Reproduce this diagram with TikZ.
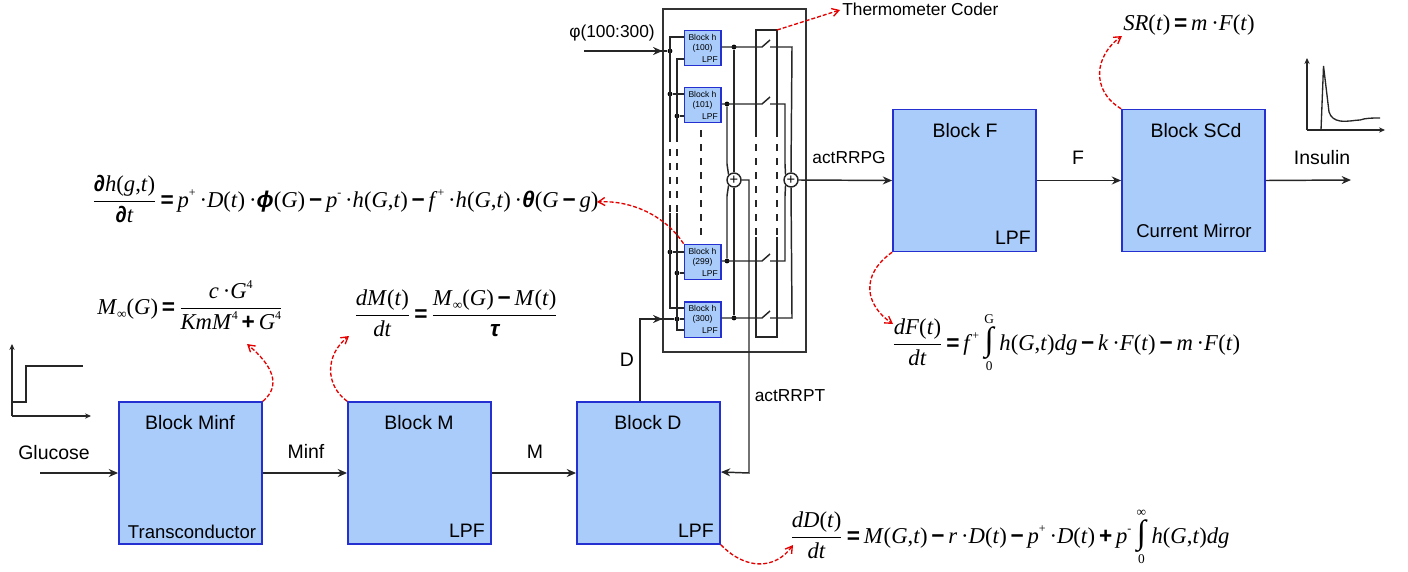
\documentclass[tikz,border=0pt]{standalone}
\usepackage{fontspec}
\setmainfont{Liberation Sans}
\newfontfamily\ser{Liberation Serif}
\newfontfamily\opf{Liberation Sans}
\usetikzlibrary{arrows.meta}
\newcommand\vv[1]{\textit{#1}}
\newcommand\Op[1]{\,{\opf\bfseries #1}\,}
\newcommand\Sy[1]{{\opf\bfseries\itshape #1}}
\newcommand\Sup[1]{\raisebox{0.45em}{\fontsize{9}{9}\selectfont #1}}
\newcommand\Sub[1]{\raisebox{-0.2em}{\fontsize{10}{10}\selectfont #1}}
\newcommand\hGt{\vv{h}(\vv{G},\vv{t})}
\newcommand\Dt{\vv{D}(\vv{t})}
\newcommand\Ft{\vv{F}(\vv{t})}
\newcommand\Cd{\,·}
\newcommand\Fr[2]{\ensuremath{\displaystyle\frac{\mbox{#1}}{\mbox{#2}}}}
\newcommand\Int[2]{\hspace{4pt}\ensuremath{\mathop{\mbox{\fontsize{25}{25}\selectfont\bfseries ∫}}\limits^{\mbox{\fontsize{10}{10}\selectfont #1}}_{\mbox{\fontsize{10}{10}\selectfont #2}}}\hspace{4pt}}
\definecolor{bfill}{HTML}{A9CCFB}
\definecolor{bdraw}{HTML}{2530D0}
\tikzset{
  x=0.75pt,y=-0.75pt,
  wire/.style={line width=1.1pt,draw=black!85},
  arr/.style={wire,-{Stealth[length=7pt,width=6pt]}},
  redarr/.style={red!90!black,line width=1pt,dash pattern=on 3pt off 1.5pt,-{Straight Barb[length=5pt,width=6pt]}},
  bigblock/.style={draw=bdraw,fill=bfill,line width=1.1pt,minimum width=107.5pt,minimum height=106.5pt,inner sep=0pt},
  hblock/.style={draw=bdraw,fill=bfill,line width=1pt,minimum width=27.5pt,minimum height=26.5pt,inner sep=0pt},
  lab/.style={font=\fontsize{14.6}{17}\selectfont,inner sep=0pt},
  sublab/.style={font=\fontsize{13.9}{16}\selectfont,inner sep=0pt},
  smlab/.style={font=\fontsize{13}{15}\selectfont,inner sep=0pt},
  tiny/.style={font=\fontsize{6.4}{7}\selectfont,inner sep=0pt},
  eq/.style={font=\ser\fontsize{17}{20}\selectfont,inner sep=0pt,anchor=base west},
  dotn/.style={circle,fill=black,inner sep=0pt,minimum size=3.6pt},
  sumn/.style={circle,draw=black!85,line width=1.1pt,fill=white,minimum size=10.5pt,inner sep=0pt,font=\fontsize{11}{11}\selectfont},
  dsh/.style={wire,dash pattern=on 5pt off 5.5pt},
}
\begin{document}
\begin{tikzpicture}
\useasboundingbox (0,0) rectangle (1408,571);
% outer box
\node[draw=black!80,line width=1.1pt,minimum width=107pt,minimum height=257pt,inner sep=0pt] (outer) at (734.5,180.5) {};
% big blocks
\node[bigblock] (minf) at (190.5,473) {};
\node[bigblock] (bm) at (419.5,473) {};
\node[bigblock] (bd) at (648.5,473) {};
\node[bigblock] (bf) at (964.5,180.5) {};
\node[bigblock] (bs) at (1193.5,180.5) {};
\node[lab] (t1) at (190,423) {Block Minf};
\node[sublab] (t2) at (192,532) {Transconductor};
\node[lab] (t3) at (419,423) {Block M};
\node[lab] (t4) at (467,531) {LPF};
\node[lab] (t5) at (648,423) {Block D};
\node[lab] (t6) at (696,531) {LPF};
\node[lab] (t7) at (965,131) {Block F};
\node[lab] (t8) at (1013,238) {LPF};
\node[lab] (t9) at (1196,131) {Block SCd};
\node[sublab] (t10) at (1194,231) {Current Mirror};
% h blocks
\node[hblock] (h100) at (702.5,48) {};
\node[hblock] (h101) at (702.5,105) {};
\node[hblock] (h299) at (702.5,262) {};
\node[hblock] (h300) at (702.5,319.5) {};
\foreach \n/\y/\t in {h100/48/100,h101/105/101,h299/262/299,h300/319.5/300}{
  \node[tiny] (\n a) at (702.5,\y-11) {Block h};
  \node[tiny] (\n b) at (702.5,\y) {(\t)};
  \node[tiny,anchor=east] (\n c) at (718,\y+11.5) {LPF};
}
% sums
\node[sumn] (s1) at (734,180) {+};
\node[sumn] (s2) at (791,180) {+};
% left buses
\node[dotn] (j1) at (670,51) {};
\node[dotn] (j2) at (670,94) {};
\node[dotn] (j3) at (677,116) {};
\node[dotn] (j4) at (670,252) {};
\node[dotn] (j5) at (677,273) {};
\node[dotn] (j6) at (677,319) {};
\coordinate (b1t) at (670,37);
\coordinate (b1s) at (670,135);
\coordinate (b1e) at (670,213);
\coordinate (b1b) at (670,308);
\coordinate (b2t) at (677,59);
\coordinate (b2s) at (677,135);
\coordinate (b2e) at (677,213);
\coordinate (b2b) at (677,330);
\draw[wire] (h100.west |- b1t) -- (b1t) -- (b1s);
\draw[dsh] (b1s) -- (b1e);
\draw[wire] (b1e) -- (b1b) -- (h300.west |- b1b);
\draw[wire] (h100.west |- b2t) -- (b2t) -- (b2s);
\draw[dsh] (b2s) -- (b2e);
\draw[wire] (b2e) -- (b2b) -- (h300.west |- b2b);
\draw[wire] (j2) -- (h101.west |- j2);
\draw[wire] (j3) -- (h101.west |- j3);
\draw[wire] (j4) -- (h299.west |- j4);
\draw[wire] (j5) -- (h299.west |- j5);
% middle dashed
\coordinate (mda) at (701,130);
\coordinate (mdb) at (701,238);
\draw[dsh] (mda) -- (mdb);
% thermometer box
\coordinate (ttl) at (756,30);
\coordinate (ttr) at (777,30);
\coordinate (tbl) at (756,337);
\coordinate (tbr) at (777,337);
\coordinate (tl1) at (756,130);
\coordinate (tl2) at (756,237);
\coordinate (tr1) at (777,130);
\coordinate (tr2) at (777,237);
\draw[wire] (tl1) -- (ttl) -- (ttr) -- (tr1);
\draw[wire] (tl2) -- (tbl) -- (tbr) -- (tr2);
\draw[dsh] (tl1) -- (tl2);
\draw[dsh] (tr1) -- (tr2);
% outputs with switches
\node[dotn] (o100) at (734,47) {};
\node[dotn] (o101) at (727,104) {};
\node[dotn] (o299) at (727,261) {};
\node[dotn] (o300) at (734,318) {};
\foreach \n/\y in {100/47,101/104,299/261,300/318}{
  \coordinate (sa\n) at (762,\y);
  \coordinate (sb\n) at (770,\y);
  \coordinate (sc\n) at (770,\y-7);
  \draw[wire] (h\n.east |- sa\n) -- (sa\n) -- (sc\n);
}
\coordinate (c100) at (792,47);
\coordinate (c101) at (785,104);
\coordinate (c299) at (785,261);
\coordinate (c300) at (792,318);
\coordinate (d101) at (785,164);
\coordinate (d299) at (785,196);
\coordinate (e101) at (727,164);
\coordinate (e299) at (727,196);
\draw[wire] (sb100) -- (c100) -- (s2.north);
\draw[wire] (sb300) -- (c300) -- (s2.south);
\draw[wire] (sb101) -- (c101) -- (d101) -- (s2.north west);
\draw[wire] (sb299) -- (c299) -- (d299) -- (s2.south west);
\draw[wire] (o100) -- (s1.north);
\draw[wire] (o300) -- (s1.south);
\draw[wire] (o101) -- (e101) -- (s1.north west);
\draw[wire] (o299) -- (e299) -- (s1.south west);
% outer connectors
\coordinate (gl) at (40,473);
\coordinate (ins) at (1351,180);
\coordinate (phi) at (584,51);
\coordinate (dn) at (640,319);
\coordinate (rr) at (749,180);
\draw[arr] (gl) -- (gl -| minf.west);
\draw[arr] (minf.east) -- (bm.west);
\draw[arr] (bm.east) -- (bd.west);
\draw[arr] (bf.east) -- (bs.west);
\draw[arr] (bs.east) -- (ins);
\draw[arr] (s2.east) -- (bf.west);
\draw[wire] (phi) -- (j1);
\draw[arr] (phi) -- (outer.west |- phi);
\draw[wire] (dn -| bd.north) -- (j6);
\draw[arr] (bd.north -| dn) -- (dn) -- (outer.west |- dn);
\draw[arr] (s1.east) -- (rr) -- (rr |- bd.east) -- (bd.east |- 749,472);
\draw[wire] (j6) -- (h300.west |- j6);
% labels
\node[lab] (lg) at (54,453) {Glucose};
\node[lab] (lmi) at (306,451) {Minf};
\node[lab] (lm) at (535,452) {M};
\node[lab] (ld) at (627,360) {D};
\node[smlab] (lat) at (790,396) {actRRPT};
\node[smlab] (lag) at (849,158) {actRRPG};
\node[lab] (lf) at (1078,158) {F};
\node[lab] (lin) at (1322,158) {Insulin};
\node[smlab] (lphi) at (612,33) {φ(100:300)};
\node[smlab,anchor=west] (lth) at (842,9) {Thermometer Coder};
% plots
\coordinate (p1o) at (12,416);
\coordinate (p1t) at (12,344);
\coordinate (p1r) at (91,416);
\draw[wire,line width=1pt,-{Stealth[length=4.5pt,width=4pt]}] (p1o) -- (p1t);
\draw[wire,line width=1pt,-{Stealth[length=4.5pt,width=4pt]}] (p1o) -- (p1r);
\coordinate (s1a) at (12,402);
\coordinate (s1b) at (26,402);
\coordinate (s1c) at (26,366);
\coordinate (s1d) at (83,366);
\draw[wire,line width=1pt] (s1a) -- (s1b) -- (s1c) -- (s1d);
\coordinate (p2o) at (1307,130);
\coordinate (p2t) at (1307,58);
\coordinate (p2r) at (1385,130);
\draw[wire,line width=1pt,-{Stealth[length=4.5pt,width=4pt]}] (p2o) -- (p2t);
\draw[wire,line width=1pt,-{Stealth[length=4.5pt,width=4pt]}] (p2o) -- (p2r);
\coordinate (q1) at (1321,130);
\coordinate (q2) at (1323.5,66);
\coordinate (q3) at (1329,112);
\coordinate (q4) at (1340,121);
\coordinate (q5) at (1360,120);
\coordinate (q6) at (1380,118);
\draw[wire,line width=1pt] (q1) -- (q2) -- (q3) .. controls (1331,118) and (1335,120) .. (q4) .. controls (1348,122) and (1355,120) .. (q5) .. controls (1366,118) and (1372,118) .. (q6);
% equations
\node[eq] (emi) at (97,314) {\vv{M}\Sub{∞}(\vv{G})\Op{=}\Fr{\vv{c}\Cd\vv{G}\Sup{4}}{\vv{KmM}\Sup{4}\Op{+}\vv{G}\Sup{4}}};
\node[eq] (em) at (354,321) {\Fr{\vv{dM}(\vv{t})}{\vv{dt}}\Op{=}\Fr{\vv{M}\Sub{∞}(\vv{G})\Op{−}\vv{M}(\vv{t})}{\Sy{τ}}};
\node[eq] (eh) at (92,207) {\Fr{{\opf\bfseries ∂}\vv{h}(\vv{g},\vv{t})}{{\opf\bfseries ∂}\vv{t}}\Op{=}\vv{p}\Sup{+}\Cd\Dt\Cd\Sy{ϕ}(\vv{G})\Op{−}\vv{p}\Sup{-}\Cd\hGt\Op{−}\vv{f}\Sup{+}\Cd\hGt\Cd\Sy{θ}(\vv{G}\Op{−}\vv{g})};
\node[eq] (ef) at (892,350) {\Fr{\vv{dF}(\vv{t})}{\vv{dt}}\Op{=}\vv{f}\Sup{+}\Int{G}{0}\hGt\vv{dg}\Op{−}\vv{k}\Cd\Ft\Op{−}\vv{m}\Cd\Ft};
\node[eq] (ed) at (790,543) {\Fr{\vv{dD}(\vv{t})}{\vv{dt}}\Op{=}\vv{M}(\vv{G},\vv{t})\Op{−}\vv{r}\Cd\Dt\Op{−}\vv{p}\Sup{+}\Cd\Dt\Op{+}\vv{p}\Sup{-}\Int{∞}{0}\hGt\vv{dg}};
\node[eq] (es) at (1123,30) {\vv{SR}(\vv{t})\Op{=}\vv{m}\Cd\Ft};
% red arrows
\coordinate (r1) at (247,344);
\coordinate (r2) at (349,336);
\coordinate (r3) at (597,202);
\coordinate (r4) at (893,324);
\coordinate (r5) at (793,545);
\coordinate (r6) at (1122,36);
\coordinate (r7) at (840,10);
\draw[redarr] (minf.north east) .. controls (282,385) and (272,365) .. (r1);
\draw[redarr] (bm.north west) .. controls (325,385) and (325,355) .. (r2);
\draw[redarr] (h299.north west) .. controls (665,215) and (630,200) .. (r3);
\draw[redarr] (bf.south west) .. controls (860,275) and (865,305) .. (r4);
\draw[redarr] (bd.south east) .. controls (745,570) and (775,570) .. (r5);
\draw[redarr] (bs.north west) .. controls (1090,90) and (1095,55) .. (r6);
\draw[redarr] (ttr) -- (r7);
\end{tikzpicture}
\end{document}
